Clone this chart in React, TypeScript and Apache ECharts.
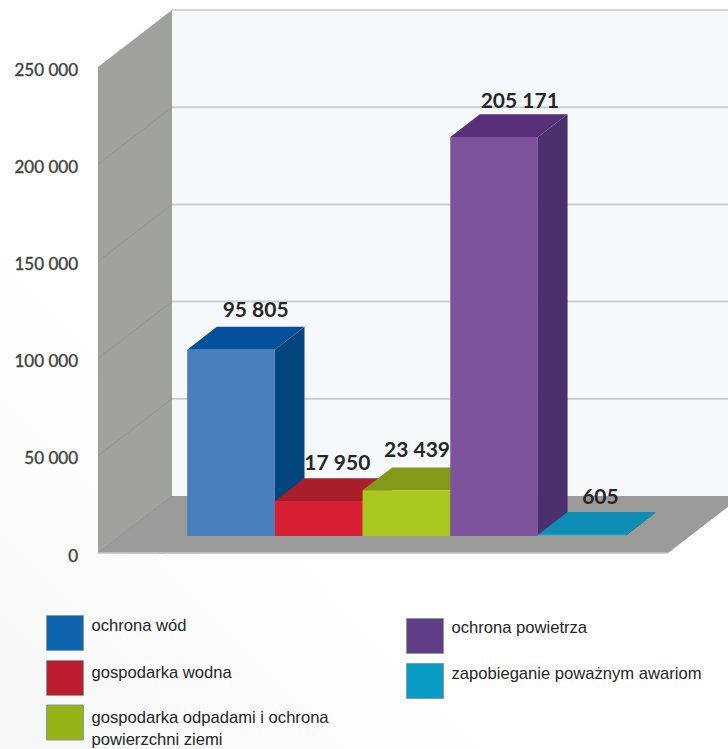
import React, { useEffect, useRef } from "react";
import * as echarts from "echarts";

const categories = [
  "ochrona wód",
  "gospodarka wodna",
  "gospodarka odpadami i ochrona\npowierzchni ziemi",
  "ochrona powietrza",
  "zapobieganie poważnym awariom",
];
const values = [95805, 17950, 23439, 205171, 605];
const yTicks = [0, 50000, 100000, 150000, 200000, 250000];

const legendColors = ["#0e65ad", "#bc1c2e", "#95b317", "#5f3d87", "#079cc3"];
const frontColors = ["#4a7fbd", "#d81f33", "#a9c81f", "#7d539b", "#3bb5cf"];
const topColors = ["#05509b", "#a81e2a", "#84991a", "#583079", "#0f8eb5"];
const sideColors = ["#03457f", "#8c1822", "#6d8014", "#4b306e", "#0b7896"];
const labelShifts = [[-5, -18], [-11, -17], [-19, -19], [-4, -15], [-11, -16]];
const legendBoxes = [[46, 615], [46, 660], [46, 700], [406, 618], [406, 663]];
const legendLineHeights = [16, 12, 22, 18, 16];

const wallX = 74;
const wallY = -57;
const nearDepth = 0.3;
const farDepth = 0.7;
const xMin = -0.764;
const xMax = 5.736;
const font = "Lato, 'Open Sans', sans-serif";

const fmt = (v: number) => String(v).replace(/\B(?=(\d{3})+$)/g, " ");

function at(api: any, x: number, v: number, depth: number): number[] {
  const p = api.coord([x, v]);
  return [p[0] + wallX * depth, p[1] + wallY * depth];
}
const poly = (points: number[][], fill: string, z2 = 0) => ({
  type: "polygon",
  z2,
  shape: { points },
  style: { fill },
});
const seg = (a: number[], b: number[], stroke: string, lineWidth: number) => ({
  type: "line",
  shape: { x1: a[0], y1: a[1], x2: b[0], y2: b[1] },
  style: { stroke, lineWidth },
});

function renderScene(_: any, api: any) {
  const top = yTicks[yTicks.length - 1];
  const children: any[] = [];
  // back wall
  children.push(
    poly(
      [at(api, xMin, 0, 1), at(api, xMin, top, 1), at(api, xMax + 1, top, 1), at(api, xMax + 1, 0, 1)],
      "#f6f9fc"
    )
  );
  // left wall
  children.push(
    poly([at(api, xMin, 0, 0), at(api, xMin, top, 0), at(api, xMin, top, 1), at(api, xMin, 0, 1)], "#9fa19d")
  );
  // floor
  children.push(
    poly([at(api, xMin, 0, 0), at(api, xMax, 0, 0), at(api, xMax, 0, 1), at(api, xMin, 0, 1)], "#9b9c99")
  );
  yTicks.slice(1).forEach((t) => {
    const isTop = t === top;
    children.push(
      seg(at(api, xMin, t, 1), at(api, xMax + 1, t, 1), isTop ? "#d6d6c4" : "#cdcdcd", 2)
    );
    if (!isTop) children.push(seg(at(api, xMin, t, 0), at(api, xMin, t, 1), "#939590", 1));
  });
  children.push(seg(at(api, xMin, 0, 0), at(api, xMin, 0, 1), "#8f918d", 1));
  children.push(seg(at(api, xMin, 0, 0), at(api, xMax, 0, 0), "#c4c4c4", 1.5));
  return { type: "group", children };
}

function renderBar(_: any, api: any) {
  const i = api.value(0);
  const v = api.value(1);
  const fl = at(api, i, 0, nearDepth);
  const fr = at(api, i + 1, 0, nearDepth);
  const tl = at(api, i, v, nearDepth);
  const tr = at(api, i + 1, v, nearDepth);
  const bl = at(api, i, v, farDepth);
  const br = at(api, i + 1, v, farDepth);
  const br0 = at(api, i + 1, 0, farDepth);
  const shift = labelShifts[i];
  const children: any[] = [
    poly([fr, tr, br, br0], sideColors[i]),
    poly([tl, tr, br, bl], topColors[i]),
    poly([fl, fr, tr, tl], frontColors[i]),
    {
      type: "text",
      z2: 100,
      x: bl[0] + (br[0] - bl[0]) / 2 + shift[0],
      y: bl[1] + shift[1],
      style: {
        text: fmt(v),
        fontFamily: font,
        fontSize: 21,
        fontWeight: "bold",
        fill: "#262626",
        align: "center",
        verticalAlign: "middle",
      },
    },
  ];
  return { type: "group", children };
}

const legendFont = {
  fontFamily: "'Liberation Sans', sans-serif",
  fontSize: 16.6,
  color: "#262626",
};

export default function App() {
  const ref = useRef<HTMLDivElement>(null);
  useEffect(() => {
    const chart = echarts.init(ref.current!, undefined, { renderer: "svg" });
    chart.setOption({
      animation: false,
      backgroundColor: {
        type: "linear",
        x: 0,
        y: 0.9,
        x2: 0.3,
        y2: 0.6,
        colorStops: [
          { offset: 0, color: "#f6f7f7" },
          { offset: 0.5, color: "#fcfcfc" },
          { offset: 1, color: "#ffffff" },
        ],
      },
      grid: { left: 98, top: 67, width: 570, height: 486 },
      xAxis: { type: "value", min: xMin, max: xMax, show: false },
      yAxis: {
        type: "value",
        min: 0,
        max: 250000,
        interval: 50000,
        splitLine: { show: false },
        axisLine: { show: false },
        axisTick: { show: true, length: 6, lineStyle: { color: "#d0d0d0", width: 1 } },
        axisLabel: {
          margin: 20,
          fontFamily: font,
          fontSize: 17,
          color: "#41433e",
          verticalAlign: "top",
          lineHeight: 4,
          textBorderColor: "#41433e",
          textBorderWidth: 0.4,
          formatter: (v: number) => fmt(v),
        },
      },
      legend: categories.map((name, i) => ({
        data: [{ name, itemStyle: { color: legendColors[i] } }],
        left: legendBoxes[i][0],
        top: legendBoxes[i][1],
        padding: 0,
        itemWidth: 37,
        itemHeight: 35,
        icon: "rect",
        selectedMode: false,
        itemStyle: { borderColor: "#8f9a9c", borderWidth: 1 },
        formatter: (n: string) => {
          if (i !== 2) return `{t|${n}}\n{t| }`;
          const [a, b] = n.split("\n");
          return `{g| }\n{t|${a}}\n{t|${b}}`;
        },
        textStyle: {
          ...legendFont,
          rich: {
            t: { ...legendFont, padding: [0, 0, 0, 3], lineHeight: legendLineHeights[i] },
            g: { fontSize: 1, lineHeight: 12 },
          },
        },
      })),
      series: [
        {
          type: "custom",
          name: "scene",
          silent: true,
          z: 1,
          renderItem: renderScene,
          data: [[0, 0]],
          encode: { x: 0, y: 1 },
        },
        ...categories.map((name, i) => ({
          type: "custom",
          name,
          silent: true,
          z: 2,
          itemStyle: { color: legendColors[i] },
          renderItem: renderBar,
          data: [[i, values[i]]],
          encode: { x: 0, y: 1 },
        })),
      ],
    });
    return () => chart.dispose();
  }, []);
  return <div ref={ref} style={{ position: "fixed", left: 0, top: 0, width: 728, height: 749 }} />;
}
